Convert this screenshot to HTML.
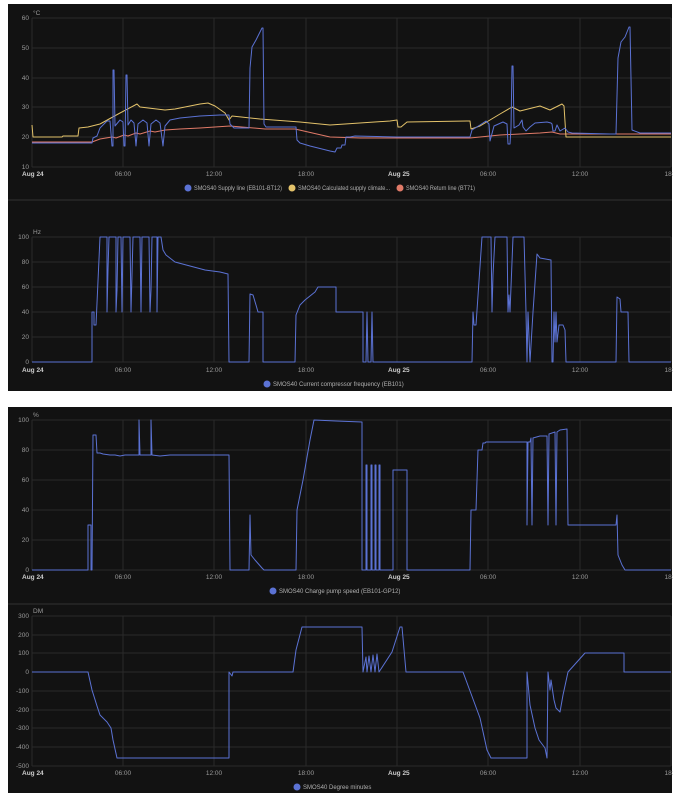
<!DOCTYPE html>
<html><head><meta charset="utf-8"><style>
html,body{margin:0;padding:0;background:#fff;width:679px;height:800px;overflow:hidden}
svg{display:block;font-family:"Liberation Sans",sans-serif}
.t{fill:#9a9a9a;font-size:6.5px}
.g{stroke:#2a2a2a;stroke-width:1}
.l{fill:none;stroke-width:1;stroke-linejoin:round}
.b{stroke:#5b72d4}.y{stroke:#e3c26a}.r{stroke:#e07a68}
.lg{fill:#b0b0b0;font-size:6px}
</style></head><body>
<svg width="679" height="800" viewBox="0 0 679 800">
<rect x="8" y="4" width="664" height="387" fill="#121212"/>
<rect x="8" y="407" width="664" height="386" fill="#121212"/>
<line x1="8" y1="200" x2="672" y2="200" stroke="#333"/>
<line x1="8" y1="604" x2="672" y2="604" stroke="#333"/>
<g class="g">
<line x1="32" x2="671" y1="18" y2="18"/><line x1="32" x2="671" y1="48" y2="48"/><line x1="32" x2="671" y1="78" y2="78"/><line x1="32" x2="671" y1="107" y2="107"/><line x1="32" x2="671" y1="137" y2="137"/><line x1="32" x2="671" y1="167" y2="167"/>
<line x1="32" x2="671" y1="237" y2="237"/><line x1="32" x2="671" y1="262" y2="262"/><line x1="32" x2="671" y1="287" y2="287"/><line x1="32" x2="671" y1="312" y2="312"/><line x1="32" x2="671" y1="337" y2="337"/><line x1="32" x2="671" y1="362" y2="362"/>
<line x1="32" x2="671" y1="420" y2="420"/><line x1="32" x2="671" y1="450" y2="450"/><line x1="32" x2="671" y1="480" y2="480"/><line x1="32" x2="671" y1="510" y2="510"/><line x1="32" x2="671" y1="540" y2="540"/><line x1="32" x2="671" y1="570" y2="570"/>
<line x1="32" x2="671" y1="616" y2="616"/><line x1="32" x2="671" y1="635" y2="635"/><line x1="32" x2="671" y1="653" y2="653"/><line x1="32" x2="671" y1="672" y2="672"/><line x1="32" x2="671" y1="691" y2="691"/><line x1="32" x2="671" y1="710" y2="710"/><line x1="32" x2="671" y1="728" y2="728"/><line x1="32" x2="671" y1="747" y2="747"/><line x1="32" x2="671" y1="766" y2="766"/>
</g>
<g class="g">
<path d="M32 18V167M123 18V167M214 18V167M306 18V167M397 18V167M488 18V167M580 18V167M671 18V167"/>
<path d="M32 237V362M123 237V362M214 237V362M306 237V362M397 237V362M488 237V362M580 237V362M671 237V362"/>
<path d="M32 420V570M123 420V570M214 420V570M306 420V570M397 420V570M488 420V570M580 420V570M671 420V570"/>
<path d="M32 616V766M123 616V766M214 616V766M306 616V766M397 616V766M488 616V766M580 616V766M671 616V766"/>
</g>
<g class="t" text-anchor="end">
<text x="29" y="20">60</text><text x="29" y="50">50</text><text x="29" y="80">40</text><text x="29" y="109">30</text><text x="29" y="139">20</text><text x="29" y="169">10</text>
<text x="29" y="239">100</text><text x="29" y="264">80</text><text x="29" y="289">60</text><text x="29" y="314">40</text><text x="29" y="339">20</text><text x="29" y="364">0</text>
<text x="29" y="422">100</text><text x="29" y="452">80</text><text x="29" y="482">60</text><text x="29" y="512">40</text><text x="29" y="542">20</text><text x="29" y="572">0</text>
<text x="29" y="618">300</text><text x="29" y="637">200</text><text x="29" y="655">100</text><text x="29" y="674">0</text><text x="29" y="693">-100</text><text x="29" y="712">-200</text><text x="29" y="730">-300</text><text x="29" y="749">-400</text><text x="29" y="768">-500</text>
</g>
<g class="t"><text x="33" y="15">°C</text><text x="33" y="234">Hz</text><text x="33" y="417">%</text><text x="33" y="613">DM</text></g>
<g class="t" text-anchor="middle">
<text x="123" y="176">06:00</text><text x="214" y="176">12:00</text><text x="306" y="176">18:00</text><text x="488" y="176">06:00</text><text x="580" y="176">12:00</text><text x="669" y="176">18:</text>
<text x="123" y="372">06:00</text><text x="214" y="372">12:00</text><text x="306" y="372">18:00</text><text x="488" y="372">06:00</text><text x="580" y="372">12:00</text><text x="669" y="372">18:</text>
<text x="123" y="579">06:00</text><text x="214" y="579">12:00</text><text x="306" y="579">18:00</text><text x="488" y="579">06:00</text><text x="580" y="579">12:00</text><text x="669" y="579">18:</text>
<text x="123" y="775">06:00</text><text x="214" y="775">12:00</text><text x="306" y="775">18:00</text><text x="488" y="775">06:00</text><text x="580" y="775">12:00</text><text x="669" y="775">18:</text>
</g>
<g class="t" font-weight="bold">
<text x="22" y="176" style="fill:#ccc">Aug 24</text><text x="388" y="176" style="fill:#ccc">Aug 25</text>
<text x="22" y="372" style="fill:#ccc">Aug 24</text><text x="388" y="372" style="fill:#ccc">Aug 25</text>
<text x="22" y="579" style="fill:#ccc">Aug 24</text><text x="388" y="579" style="fill:#ccc">Aug 25</text>
<text x="22" y="775" style="fill:#ccc">Aug 24</text><text x="388" y="775" style="fill:#ccc">Aug 25</text>
</g>
<circle cx="188" cy="188" r="3.5" fill="#5b72d4"/><text class="lg" x="194" y="190" textLength="88" lengthAdjust="spacingAndGlyphs">SMOS40 Supply line (EB101-BT12)</text>
<circle cx="292" cy="188" r="3.5" fill="#e3c26a"/><text class="lg" x="298" y="190" textLength="92" lengthAdjust="spacingAndGlyphs">SMOS40 Calculated supply climate...</text>
<circle cx="400" cy="188" r="3.5" fill="#e07a68"/><text class="lg" x="406" y="190" textLength="69" lengthAdjust="spacingAndGlyphs">SMOS40 Return line (BT71)</text>
<circle cx="267" cy="384" r="3.5" fill="#5b72d4"/><text class="lg" x="273" y="386">SMOS40 Current compressor frequency (EB101)</text>
<circle cx="273" cy="591" r="3.5" fill="#5b72d4"/><text class="lg" x="279" y="593">SMOS40 Charge pump speed (EB101-GP12)</text>
<circle cx="297" cy="787" r="3.5" fill="#5b72d4"/><text class="lg" x="303" y="789">SMOS40 Degree minutes</text>
<path class="l r" d="M32 142L92 142L100 139L112 137L116 138L124 135L128 136L136 133L140 134L150 131L155 132L165 130L180 129L200 128L215 127L230 126L265 129L295 129L330 137L360 138L400 138L470 138L480 137L500 135L520 134L540 133L552 132L560 134L600 134L671 134"/>
<path class="l y" d="M32 125L33 137L62 137L63 136L78 136L79 128L88 127L100 124L120 113L137 104L140 107L165 110L175 109L200 104L208 103L215 106L225 113L229 120L232 116L260 119L300 122L330 125L345 124L390 121L397 120L398 127L401 127L407 122L467 121L470 121L471 129L480 126L500 114L512 107L520 111L540 106L550 110L562 104L564 106L566 137L671 137"/>
<path class="l b" d="M32 143L92 143L93 138L97 136L100 128L107 121L110 121L112 146L113 146L113 70L114 70L115 126L120 120L123 122L124 146L125 146L126 75L127 75L128 125L131 120L134 123L136 146L138 124L143 120L147 123L149 146L151 124L156 120L160 123L163 146L165 126L170 120L180 118L200 116L220 115L229 115L230 124L234 128L249 128L250 68L252 47L256 40L262 28L263 28L264 124L266 127L296 127L297 140L300 143L310 146L330 151L335 152L337 148L341 148L342 145L345 145L346 137L350 137L355 136L397 137L470 137L472 130L480 125L486 121L489 124L490 141L494 126L503 122L507 124L508 144L510 144L511 128L512 66L513 66L514 128L519 125L522 120L523 127L526 131L530 127L535 123L547 122L551 123L552 124L553 131L555 131L557 125L560 131L565 128L568 132L572 133L610 134L616 134L618 58L621 42L625 37L629 27L630 27L632 130L640 133L671 133"/>
<path class="l b" d="M32 362L92 362L92 312L94 312L94 325L96 325L100 237L107 237L107 312L108 270L109 237L116 237L116 312L117 290L118 237L121 237L122 312L123 237L130 237L131 312L132 275L133 237L140 237L141 312L142 237L149 237L150 312L151 290L152 237L157 237L157 312L158 237L161 237L163 250L166 255L175 262L190 266L205 270L220 272L228 274L229 362L249 362L250 294L253 295L256 305L258 312L263 312L263 362L295 362L296 315L300 305L305 300L315 292L318 287L336 287L336 312L363 312L363 362L366 362L367 312L368 362L371 362L372 312L373 362L472 362L473 312L474 325L476 325L482 237L491 237L492 312L493 275L495 237L507 237L508 312L509 295L510 312L513 237L524 237L526 312L527 362L528 312L530 362L533 312L537 254L540 258L551 260L552 362L553 362L554 312L555 342L556 312L557 342L559 325L563 325L565 330L566 362L616 362L617 297L620 299L621 312L628 312L629 362L671 362"/>
<path class="l b" d="M32 570L88 570L88 525L91 525L91 570L92 570L93 435L96 435L97 453L100 453L103 454L110 455L115 455L120 456L125 455L139 455L139 420L140 455L151 455L151 420L152 455L160 456L170 455L229 455L230 570L249 570L250 515L251 555L255 560L262 568L264 570L296 570L297 510L303 480L310 440L314 420L336 421L362 422L362 570L366 570L366 465L367 465L367 570L371 570L371 465L372 465L372 570L375 570L375 465L376 465L376 570L379 570L379 465L380 465L380 570L393 570L393 470L407 470L407 570L470 570L471 510L476 510L478 450L482 450L483 443L485 443L486 442L527 442L527 525L528 442L530 442L531 438L532 525L533 438L540 436L547 436L548 525L549 434L555 432L556 525L557 432L560 430L567 429L568 525L616 525L617 515L618 555L622 565L625 570L671 570"/>
<path class="l b" d="M32 672L88 672L92 690L97 706L100 715L107 722L111 728L113 740L117 758L229 758L229 672L232 676L233 672L293 672L296 650L302 627L362 627L363 672L366 657L367 672L369 656L371 672L373 655L375 672L377 654L379 672L392 652L400 627L402 627L406 672L463 672L480 718L487 750L491 758L527 758L527 672L530 705L535 728L539 740L545 748L547 758L548 672L550 690L551 680L554 700L556 708L560 712L563 695L568 672L585 653L624 653L624 672L671 672"/>
</svg>
</body></html>
